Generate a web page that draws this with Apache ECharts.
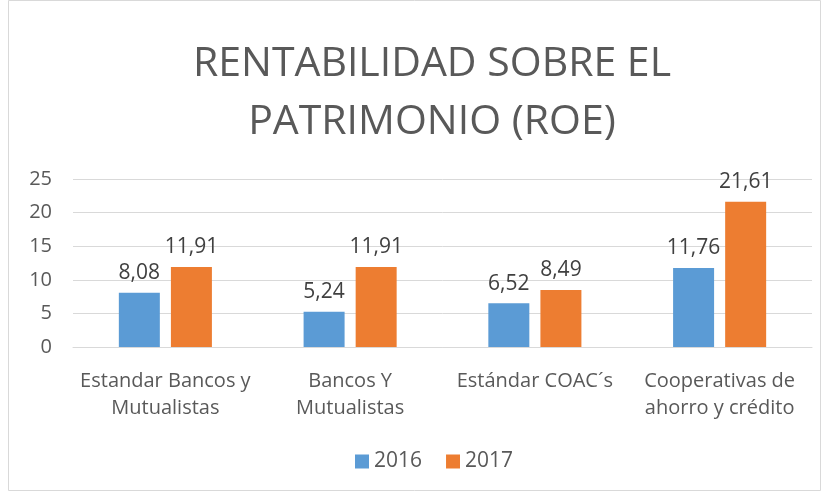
<!DOCTYPE html>
<html>
<head>
<meta charset="utf-8">
<script src="https://cdn.jsdelivr.net/npm/echarts@6/dist/echarts.min.js"></script>
<style>
html,body{margin:0;padding:0;background:#fff;}
#main{width:829px;height:496px;}
</style>
</head>
<body>
<div id="main"></div>
<script>
// datos
var categorias = ['Estandar Bancos y\nMutualistas', 'Bancos Y\nMutualistas', 'Estándar COAC´s', 'Cooperativas de\nahorro y crédito'];
var serie2016 = [8.08, 5.24, 6.52, 11.76];
var serie2017 = [11.91, 11.91, 8.49, 21.61];
var ticksY = [0, 5, 10, 15, 20, 25];

var fuente = 'Open Sans';
var coma = function(p){ return String(p.value.toFixed(2)).replace('.', ','); };

var myChart = echarts.init(document.getElementById('main'));
var option = {
    backgroundColor: '#fff',
    color: ['#5B9BD5', '#ED7D31'],
    title: {
        text: 'RENTABILIDAD SOBRE EL\nPATRIMONIO (ROE)',
        left: 427,
        textAlign: 'center',
        top: 30,
        textStyle: {fontFamily: fuente, fontSize: 41, fontWeight: 'normal', color: '#595959', lineHeight: 58}
    },
    graphic: [{
        type: 'rect',
        shape: {x: 8.5, y: 0.5, width: 812, height: 490},
        style: {fill: 'none', stroke: '#d9d9d9', lineWidth: 1},
        silent: true
    }],
    legend: {
        bottom: 19,
        left: 350,
        itemWidth: 14,
        itemHeight: 14,
        itemGap: 24,
        icon: 'rect',
        textStyle: {fontFamily: fuente, fontSize: 21, color: '#595959'},
        data: ['2016', '2017']
    },
    grid: {left: 73, right: 17, top: 179, bottom: 149},
    xAxis: {
        type: 'category',
        data: categorias,
        axisLine: {lineStyle: {color: '#d9d9d9'}},
        axisTick: {show: false},
        axisLabel: {fontFamily: fuente, fontSize: 20, color: '#595959', margin: 21, lineHeight: 27, interval: 0}
    },
    yAxis: {
        type: 'value',
        min: ticksY[0],
        max: ticksY[ticksY.length - 1],
        interval: 5,
        axisLine: {show: false},
        axisTick: {show: false},
        splitLine: {lineStyle: {color: '#d9d9d9'}},
        axisLabel: {fontFamily: fuente, fontSize: 20, color: '#595959', margin: 21}
    },
    series: [{
        name: '2016',
        type: 'bar',
        data: serie2016,
        barWidth: 41,
        barGap: '27%',
        label: {show: true, position: 'top', distance: 9, formatter: coma, fontFamily: fuente, fontSize: 21, color: '#404040'}
    }, {
        name: '2017',
        type: 'bar',
        data: serie2017,
        barWidth: 41,
        label: {show: true, position: 'top', distance: 9, formatter: coma, fontFamily: fuente, fontSize: 21, color: '#404040'}
    }]
};
myChart.setOption(option, true);
</script>
</body>
</html>
